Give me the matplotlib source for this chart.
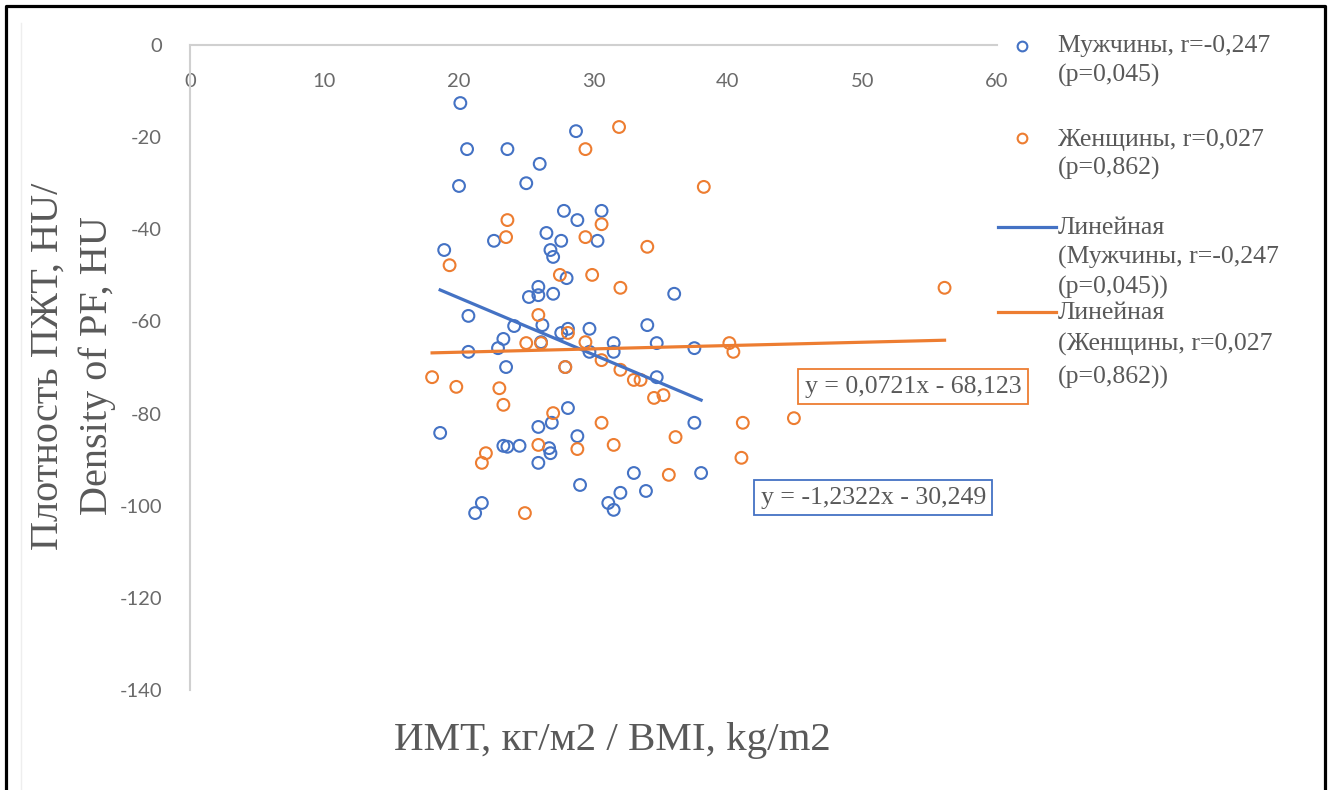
import matplotlib.pyplot as plt
from matplotlib.lines import Line2D

plt.rcParams['axes.unicode_minus'] = False

# data
men_bmi = [20.1, 20.6, 23.6, 26.0, 20.0, 25.0, 28.7, 18.9, 22.6, 27.8, 28.8, 30.6, 26.5,
           27.6, 30.3, 26.8, 27.0, 28.0, 25.9, 25.2, 25.9, 27.0, 36.0, 20.7, 24.1, 26.2,
           28.1, 29.7, 34.0, 27.6, 23.3, 26.1, 31.5, 34.7, 20.7, 22.9, 29.7, 31.5, 37.5,
           23.5, 27.9, 34.7, 18.6, 28.1, 25.9, 26.9, 37.5, 28.8, 23.3, 23.6, 24.5, 26.7,
           26.8, 25.9, 33.0, 38.0, 29.0, 32.0, 33.9, 31.1, 31.5, 21.7, 21.2]
men_pf = [-12.6, -22.6, -22.6, -25.8, -30.6, -30.0, -18.7, -44.5, -42.5, -36.0, -38.0, -36.0,
          -40.8, -42.5, -42.5, -44.5, -46.0, -50.6, -52.5, -54.7, -54.3, -54.0, -54.0, -58.8,
          -61.0, -60.8, -61.6, -61.6, -60.8, -62.5, -63.8, -64.5, -64.7, -64.7, -66.6, -65.8,
          -66.6, -66.6, -65.8, -69.9, -69.9, -72.1, -84.2, -78.8, -82.9, -82.0, -82.0, -84.9,
          -87.0, -87.2, -87.0, -87.5, -88.6, -90.7, -92.9, -92.9, -95.5, -97.2, -96.8, -99.4,
          -100.9, -99.4, -101.6]

women_bmi = [31.9, 29.4, 38.2, 23.6, 30.6, 23.5, 29.4, 34.0, 19.3, 27.5, 29.9, 32.0, 56.1,
             25.9, 25.0, 26.1, 28.1, 29.4, 30.6, 32.0, 33.0, 33.5, 40.1, 40.4, 18.0, 19.8,
             23.0, 23.3, 27.9, 34.5, 35.2, 27.0, 30.6, 41.1, 44.9, 36.1, 25.9, 28.8, 31.5,
             22.0, 21.7, 41.0, 35.6, 24.9]
women_pf = [-17.8, -22.6, -30.8, -38.0, -38.9, -41.7, -41.7, -43.8, -47.8, -49.9, -49.9,
            -52.7, -52.7, -58.6, -64.7, -64.7, -62.5, -64.5, -68.4, -70.5, -72.7, -72.7,
            -64.7, -66.6, -72.1, -74.2, -74.5, -78.1, -69.9, -76.6, -76.0, -79.9, -82.0,
            -82.0, -81.0, -85.1, -86.8, -87.7, -86.8, -88.6, -90.7, -89.6, -93.3, -101.6]

# trendline coefficients (from the chart labels)
men_slope, men_icpt = -1.2322, -30.249
women_slope, women_icpt = 0.0721, -68.123

BLUE = '#4472C4'
ORANGE = '#ED7D31'
GREY = '#595959'
W, H = 1332, 790

fig = plt.figure(figsize=(W / 100, H / 100), dpi=100)
ax = fig.add_axes([190 / W, 1 - 690 / H, (997 - 190) / W, (690 - 45) / H])

ax.scatter(men_bmi, men_pf, s=72, facecolors='none', edgecolors=BLUE, linewidths=1.5, zorder=3)
ax.scatter(women_bmi, women_pf, s=72, facecolors='none', edgecolors=ORANGE, linewidths=1.5, zorder=3)

mx = [min(men_bmi), max(men_bmi)]
ax.plot(mx, [men_slope * x + men_icpt for x in mx], color=BLUE, lw=2.3, zorder=4)
wx = [min(women_bmi), max(women_bmi)]
ax.plot(wx, [women_slope * x + women_icpt for x in wx], color=ORANGE, lw=2.3, zorder=4)

ax.set_xlim(0, 60)
ax.set_ylim(-140, 0)
ax.set_xticks(range(0, 61, 10))
ax.set_yticks(range(-140, 1, 20))
for s in ['top', 'right']:
    ax.spines[s].set_visible(False)
ax.spines['bottom'].set_position(('data', 0))
for s in ['bottom', 'left']:
    ax.spines[s].set_color('#D0D0D0')
    ax.spines[s].set_linewidth(1.5)
ax.tick_params(length=0, labelsize=14.5, labelcolor='#6A6A6A')
ax.tick_params(axis='x', pad=20)
ax.tick_params(axis='y', pad=20)
for lab in ax.get_xticklabels() + ax.get_yticklabels():
    lab.set_family('Lato')

serif = 'Liberation Serif'

# equation boxes
ax.text(53.75, -74.2, 'y = 0,0721x - 68,123', fontsize=18.5, family=serif, color=GREY,
        ha='center', va='center',
        bbox=dict(boxstyle='square,pad=0.25', fc='white', ec=ORANGE, lw=1.3))
ax.text(50.8, -98.3, 'y = -1,2322x - 30,249', fontsize=18.5, family=serif, color=GREY,
        ha='center', va='center',
        bbox=dict(boxstyle='square,pad=0.25', fc='white', ec=BLUE, lw=1.3))

# axis titles
fig.text(612 / W, 1 - 750 / H, 'ИМТ, кг/м2 / BMI, kg/m2', fontsize=29.5, family=serif,
         color=GREY, ha='center', va='baseline')
fig.text(48 / W, 1 - 366 / H, 'Плотность ПЖТ, HU/', fontsize=29, family=serif,
         color=GREY, ha='center', va='center', rotation=90)
fig.text(97 / W, 1 - 366 / H, 'Density of PF, HU', fontsize=29, family=serif,
         color=GREY, ha='center', va='center', rotation=90)

# legend, drawn by hand to keep the handles on the first text line
def fx(px):
    return px / W

def fy(py):
    return 1 - py / H

fig.add_artist(Line2D([fx(1022)], [fy(46)], marker='o', ms=7, mfc='none', mec=BLUE, mew=1.5, ls='none'))
fig.add_artist(Line2D([fx(1022)], [fy(138)], marker='o', ms=7, mfc='none', mec=ORANGE, mew=1.5, ls='none'))
fig.add_artist(Line2D([fx(998), fx(1056)], [fy(227), fy(227)], color=BLUE, lw=2.3))
fig.add_artist(Line2D([fx(998), fx(1056)], [fy(312), fy(312)], color=ORANGE, lw=2.3))

legend_lines = [
    ('Мужчины, r=-0,247', 46), ('(p=0,045)', 75),
    ('Женщины, r=0,027', 140), ('(p=0,862)', 168),
    ('Линейная', 228), ('(Мужчины, r=-0,247', 257), ('(p=0,045))', 287),
    ('Линейная', 313), ('(Женщины, r=0,027', 344), ('(p=0,862))', 377),
]
for txt, py in legend_lines:
    fig.text(fx(1058), fy(py), txt, fontsize=18.5, family=serif, color=GREY,
             ha='left', va='center')

# outer frame (left, top, right) and faint chart area edge
fig.add_artist(Line2D([fx(6), fx(6), fx(1325), fx(1325)], [0, fy(6), fy(6), 0], color='black', lw=2.3))
fig.add_artist(Line2D([fx(21), fx(21)], [0, fy(23)], color='#EEEEEE', lw=1))

fig.savefig('out.png', dpi=100)
